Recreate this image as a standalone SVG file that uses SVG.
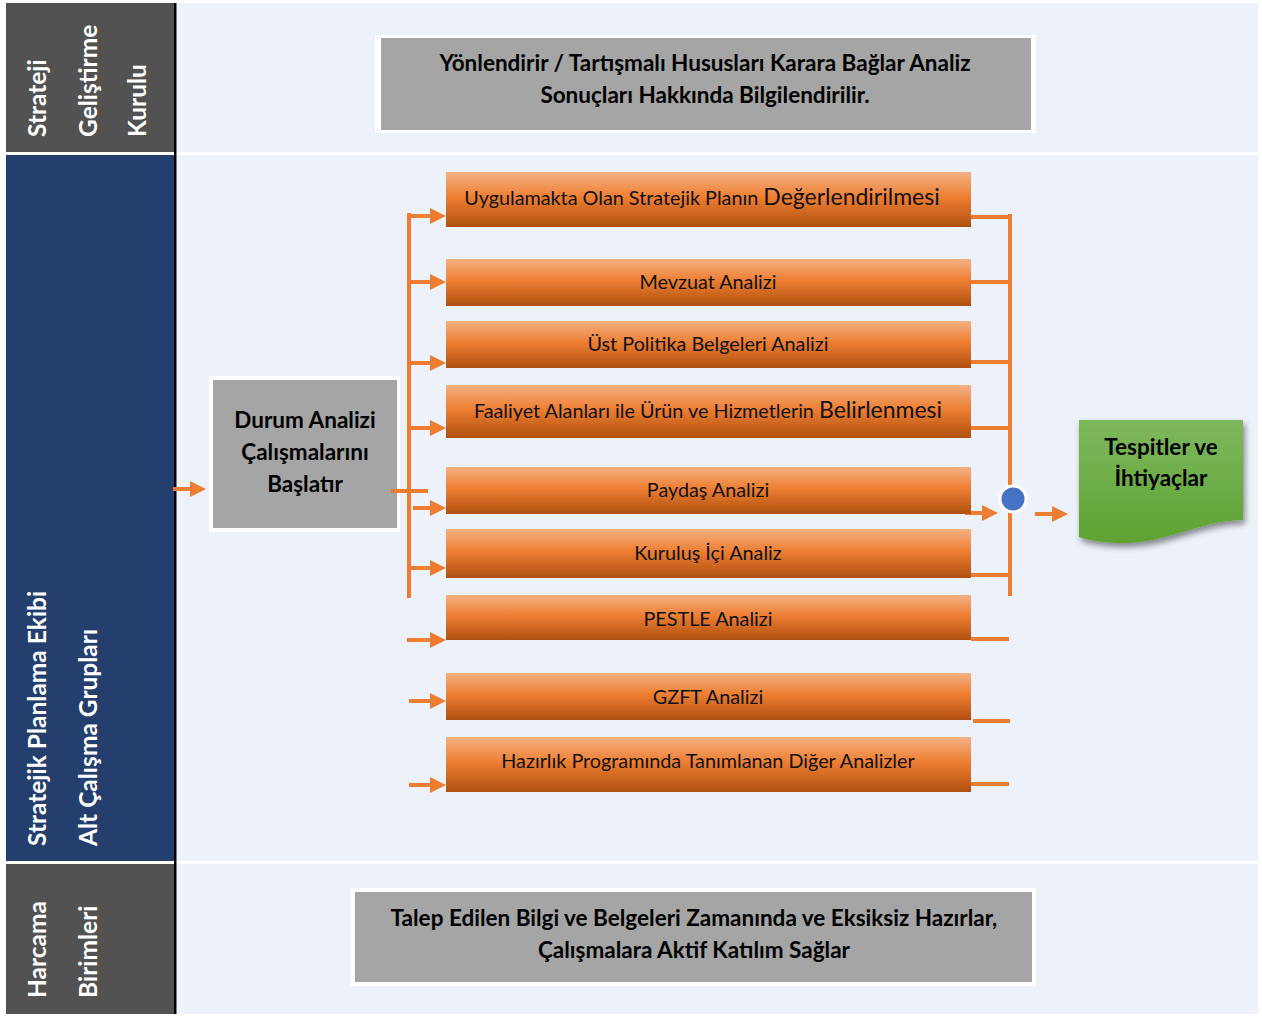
<svg xmlns="http://www.w3.org/2000/svg" width="1262" height="1017" viewBox="0 0 1262 1017">
<defs>
<style>
.lane{fill:#525252}
.lane2{fill:#243F6E}
.lt{font-family:Lato,"Open Sans","Liberation Sans",sans-serif;font-weight:bold;font-size:24.5px;fill:#ffffff}
.bx{font-family:Lato,"Open Sans","Liberation Sans",sans-serif;font-weight:bold;font-size:22.5px;fill:#000000;text-anchor:middle}
.ot{font-family:Lato,"Open Sans","Liberation Sans",sans-serif;font-size:19.8px;fill:#111111;text-anchor:middle}
.ob{fill:url(#og)}
.con{stroke:#ED7D31;stroke-width:4;fill:none}
.arr{stroke:#ED7D31;stroke-width:4;fill:none;marker-end:url(#ah)}
</style>
<linearGradient id="og" x1="0" y1="0" x2="0" y2="1">
<stop offset="0" stop-color="#F4B183"/>
<stop offset="0.45" stop-color="#EE7F33"/>
<stop offset="1" stop-color="#B0500F"/>
</linearGradient>
<linearGradient id="gg" x1="0" y1="0" x2="0" y2="1">
<stop offset="0" stop-color="#7EB85D"/>
<stop offset="1" stop-color="#5EA233"/>
</linearGradient>
<marker id="ah" markerUnits="userSpaceOnUse" markerWidth="16" markerHeight="16" refX="2" refY="8" orient="auto">
<path d="M0,0 L16,8 L0,16 Z" fill="#ED7D31"/>
</marker>
<filter id="sh" x="-10%" y="-10%" width="130%" height="140%">
<feGaussianBlur in="SourceAlpha" stdDeviation="3"/>
<feOffset dx="2" dy="4"/>
<feComponentTransfer><feFuncA type="linear" slope="0.45"/></feComponentTransfer>
<feMerge><feMergeNode/><feMergeNode in="SourceGraphic"/></feMerge>
</filter>
</defs>
<rect x="0" y="0" width="1262" height="1017" fill="#ffffff"/>
<g id="lanes">
<rect x="177" y="3" width="1081" height="149" fill="#EDF1F9"/>
<rect x="177" y="155" width="1081" height="706" fill="#EDF1F9"/>
<rect x="177" y="864" width="1081" height="150" fill="#EDF1F9"/>
<rect class="lane" x="6" y="3" width="169" height="149"/>
<rect class="lane2" x="6" y="155" width="169" height="706"/>
<rect class="lane" x="6" y="864" width="169" height="150"/>
<rect x="174" y="3" width="2.5" height="1011" fill="#000000"/>
<text class="lt" transform="translate(46,137) rotate(-90)">Strateji</text>
<text class="lt" transform="translate(97,137) rotate(-90)">Geliştirme</text>
<text class="lt" transform="translate(146,137) rotate(-90)">Kurulu</text>
<text class="lt" transform="translate(46,846) rotate(-90)">Stratejik Planlama Ekibi</text>
<text class="lt" transform="translate(97,846) rotate(-90)">Alt Çalışma Grupları</text>
<text class="lt" transform="translate(46,998) rotate(-90)">Harcama</text>
<text class="lt" transform="translate(97,998) rotate(-90)">Birimleri</text>
</g>
<g id="top-box">
<rect x="375" y="35" width="661" height="98" fill="#ffffff"/>
<rect x="381" y="38" width="650" height="92" fill="#A5A5A5"/>
<text class="bx" x="705" y="71">Yönlendirir / Tartışmalı Hususları Karara Bağlar Analiz</text>
<text class="bx" x="705" y="103">Sonuçları Hakkında Bilgilendirilir.</text>
</g>
<g id="bottom-box">
<rect x="351" y="888" width="685" height="98" fill="#ffffff"/>
<rect x="355" y="892" width="677" height="90" fill="#A5A5A5"/>
<text class="bx" x="694" y="926">Talep Edilen Bilgi ve Belgeleri Zamanında ve Eksiksiz Hazırlar,</text>
<text class="bx" x="694" y="958">Çalışmalara Aktif Katılım Sağlar</text>
</g>
<g id="durum">
<rect x="209" y="376" width="191" height="156" fill="#ffffff"/>
<rect x="213" y="380" width="184" height="148" fill="#A5A5A5"/>
<text class="bx" x="305" y="428">Durum Analizi</text>
<text class="bx" x="305" y="460">Çalışmalarını</text>
<text class="bx" x="305" y="492">Başlatır</text>
</g>
<g id="connectors">
<line class="arr" x1="173" y1="489" x2="192" y2="489"/>
<line class="con" x1="391" y1="491" x2="428" y2="491"/>
<line class="con" x1="409" y1="213" x2="409" y2="598"/>
<line class="arr" x1="407" y1="216" x2="432" y2="216"/>
<line class="arr" x1="409" y1="282" x2="432" y2="282"/>
<line class="arr" x1="409" y1="363" x2="432" y2="363"/>
<line class="arr" x1="409" y1="428" x2="432" y2="428"/>
<line class="arr" x1="413" y1="508" x2="432" y2="508"/>
<line class="arr" x1="409" y1="568" x2="432" y2="568"/>
<line class="arr" x1="407" y1="640" x2="432" y2="640"/>
<line class="arr" x1="409" y1="701" x2="432" y2="701"/>
<line class="arr" x1="409" y1="785" x2="432" y2="785"/>
<line class="con" x1="1010" y1="214" x2="1010" y2="596"/>
<line class="con" x1="971" y1="217" x2="1012" y2="217"/>
<line class="con" x1="971" y1="282" x2="1010" y2="282"/>
<line class="con" x1="971" y1="362" x2="1010" y2="362"/>
<line class="con" x1="971" y1="428" x2="1010" y2="428"/>
<line class="con" x1="971" y1="575" x2="1010" y2="575"/>
<line class="arr" x1="965" y1="513" x2="984" y2="513"/>
<line class="arr" x1="1035" y1="514" x2="1054" y2="514"/>
<line class="con" x1="971" y1="639" x2="1009" y2="639"/>
<line class="con" x1="973" y1="721" x2="1010" y2="721"/>
<line class="con" x1="971" y1="784" x2="1009" y2="784"/>
<circle cx="1013" cy="499" r="13" fill="#4472C4" stroke="#ffffff" stroke-width="3"/>
</g>
<g id="n1"><rect class="ob" x="446" y="172" width="525" height="55"/>
<text class="ot" x="702" y="205">Uygulamakta Olan Stratejik Planın <tspan font-size="23">Değerlendirilmesi</tspan></text></g>
<g id="n2"><rect class="ob" x="446" y="259" width="525" height="47"/>
<text class="ot" x="708" y="289">Mevzuat Analizi</text></g>
<g id="n3"><rect class="ob" x="446" y="321" width="525" height="47"/>
<text class="ot" x="708" y="351">Üst Politika Belgeleri Analizi</text></g>
<g id="n4"><rect class="ob" x="446" y="385" width="525" height="53"/>
<text class="ot" x="708" y="418">Faaliyet Alanları ile Ürün ve Hizmetlerin <tspan font-size="23">Belirlenmesi</tspan></text></g>
<g id="n5"><rect class="ob" x="446" y="467" width="525" height="47"/>
<text class="ot" x="708" y="497">Paydaş Analizi</text></g>
<g id="n6"><rect class="ob" x="446" y="529" width="525" height="49"/>
<text class="ot" x="708" y="560">Kuruluş İçi Analiz</text></g>
<g id="n7"><rect class="ob" x="446" y="595" width="525" height="45"/>
<text class="ot" x="708" y="626">PESTLE Analizi</text></g>
<g id="n8"><rect class="ob" x="446" y="673" width="525" height="47"/>
<text class="ot" x="708" y="704">GZFT Analizi</text></g>
<g id="n9"><rect class="ob" x="446" y="737" width="525" height="55"/>
<text class="ot" x="708" y="768">Hazırlık Programında Tanımlanan Diğer Analizler</text></g>
<g id="result">
<path d="M1079,420 L1243,420 L1243,520 C1205,520 1165,543 1125,543 C1105,543 1092,541 1079,537 Z" fill="url(#gg)" filter="url(#sh)"/>
<text class="bx" x="1161" y="455">Tespitler ve</text>
<text class="bx" x="1161" y="486">İhtiyaçlar</text>
</g>
</svg>
